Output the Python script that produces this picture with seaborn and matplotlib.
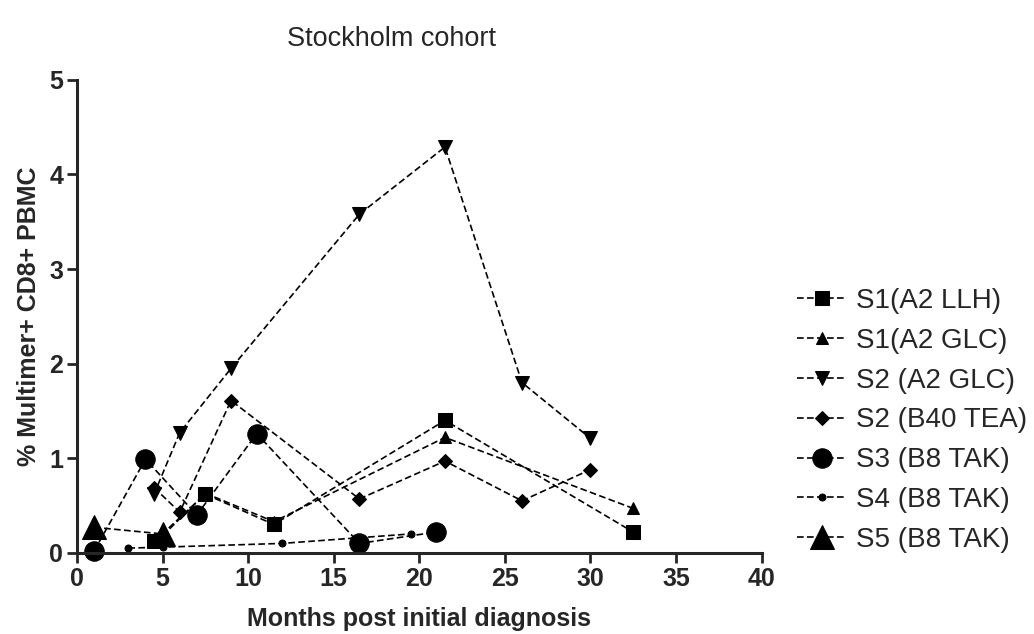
import matplotlib
matplotlib.use('Agg')
import matplotlib.pyplot as plt
import seaborn as sns
import pandas as pd

# Data (months post diagnosis, % multimer+ CD8+ PBMC)
labels = ['S1(A2 LLH)', 'S1(A2 GLC)', 'S2 (A2 GLC)', 'S2 (B40 TEA)',
          'S3 (B8 TAK)', 'S4 (B8 TAK)', 'S5 (B8 TAK)']

s1_llh_x = [4.5, 7.5, 11.5, 21.5, 32.5]
s1_llh_y = [0.12, 0.62, 0.30, 1.40, 0.22]

s1_glc_x = [5.0, 7.5, 11.5, 21.5, 32.5]
s1_glc_y = [0.18, 0.63, 0.33, 1.22, 0.47]

s2_glc_x = [4.5, 6.0, 9.0, 16.5, 21.5, 26.0, 30.0]
s2_glc_y = [0.62, 1.27, 1.95, 3.58, 4.29, 1.80, 1.21]

s2_tea_x = [4.5, 6.0, 9.0, 16.5, 21.5, 26.0, 30.0]
s2_tea_y = [0.69, 0.43, 1.61, 0.57, 0.97, 0.55, 0.88]

s3_x = [1.0, 4.0, 7.0, 10.5, 16.5, 21.0]
s3_y = [0.02, 0.99, 0.40, 1.26, 0.10, 0.22]

s4_x = [3.0, 5.0, 12.0, 19.5]
s4_y = [0.05, 0.06, 0.10, 0.20]

s5_x = [1.0, 5.0]
s5_y = [0.27, 0.20]

series = [
    (s1_llh_x, s1_llh_y, 's', 9.5),
    (s1_glc_x, s1_glc_y, '^', 9),
    (s2_glc_x, s2_glc_y, 'v', 10),
    (s2_tea_x, s2_tea_y, 'D', 7),
    (s3_x, s3_y, 'o', 14),
    (s4_x, s4_y, 'o', 5),
    (s5_x, s5_y, '^', 17),
]

sns.set_style('ticks')
plt.rcParams['font.family'] = ['Liberation Sans', 'DejaVu Sans']

fig = plt.figure(figsize=(10.34, 6.34), dpi=100)
ax = fig.add_axes([0.0745, 0.128, 0.662, 0.746])

for (xs, ys, mk, ms), lab in zip(series, labels):
    df = pd.DataFrame({'x': xs, 'y': ys})
    sns.lineplot(data=df, x='x', y='y', ax=ax, color='black', marker=mk,
                 markersize=ms, markeredgecolor='black', linewidth=1.2,
                 linestyle=(0, (4, 2)), label=lab, clip_on=False)

ax.set_xlim(0, 40)
ax.set_ylim(0, 5)
ax.set_xticks(range(0, 41, 5))
ax.set_yticks(range(0, 6))
sns.despine(ax=ax)
for sp in ['left', 'bottom']:
    ax.spines[sp].set_linewidth(2.2)
ax.tick_params(width=2, length=7, labelsize=18, direction='out', pad=3)
for t in ax.get_xticklabels() + ax.get_yticklabels():
    t.set_fontweight('bold')

ax.set_xlabel('Months post initial diagnosis', fontsize=18, fontweight='bold', labelpad=12)
ax.set_ylabel('% Multimer+ CD8+ PBMC', fontsize=18, fontweight='bold', labelpad=6)
fig.text(0.379, 0.938, 'Stockholm cohort', fontsize=19.5, ha='center', va='center')

leg = ax.legend(loc='center left', bbox_to_anchor=(1.035, 0.28), frameon=False,
                fontsize=20, handlelength=1.8, labelspacing=0.5, handletextpad=0.35,
                borderaxespad=0)

fig.savefig('out.png', dpi=100)
